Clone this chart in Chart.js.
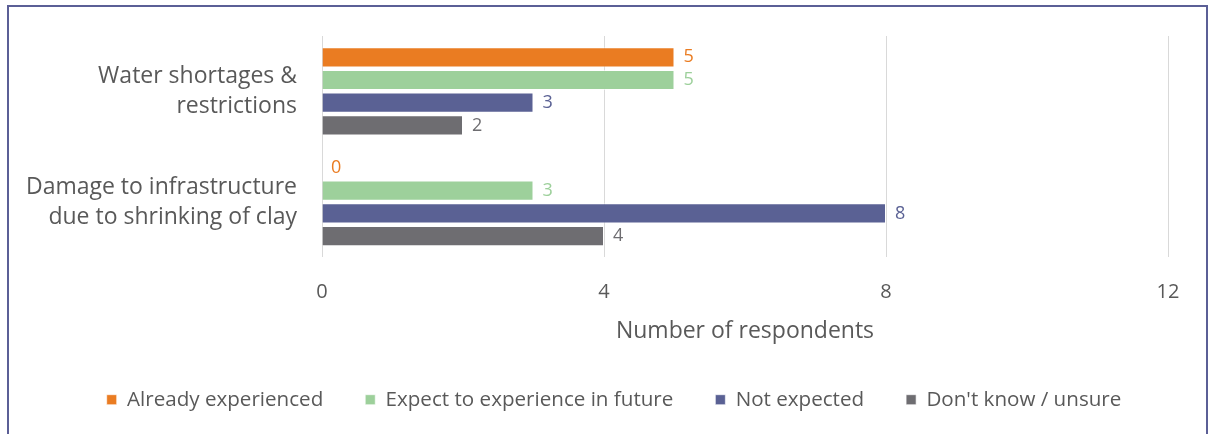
<!DOCTYPE html>
<html>
<head>
<meta charset="utf-8">
<script src="https://cdn.jsdelivr.net/npm/chart.js@4"></script>
<style>
  html, body { margin: 0; padding: 0; background: #ffffff; }
  #wrap { position: relative; width: 1210px; height: 434px; overflow: hidden; }
  #frame {
    position: absolute; left: 7px; top: 5px; width: 1201px; height: 460px;
    border: 2px solid #5b5f96; box-sizing: border-box; pointer-events: none;
  }
  canvas { position: absolute; left: 0; top: 0; }
</style>
</head>
<body>
<div id="wrap">
  <canvas id="chart" width="1210" height="434"></canvas>
  <div id="frame"></div>
</div>
<script>
// Impacts asked about in the survey
const categories = [
  ["Water shortages &", "restrictions"],
  ["Damage to infrastructure", "due to shrinking of clay"]
];

// Respondent counts per answer
const alreadyExperienced = [5, 0];
const expectInFuture = [5, 3];
const notExpected = [3, 8];
const dontKnow = [2, 4];

const seriesNames = [
  "Already experienced",
  "Expect to experience in future",
  "Not expected",
  "Don't know / unsure"
];

const xTicks = [0, 4, 8, 12];

const FONT = "'Open Sans', 'Noto Sans', sans-serif";
const TEXT = "#595959";

// Draws each bar's value just past its end, in the series colour
const valueLabels = {
  id: "valueLabels",
  afterDatasetsDraw(chart) {
    const ctx = chart.ctx;
    ctx.save();
    ctx.font = "18px " + FONT;
    ctx.textBaseline = "middle";
    ctx.textAlign = "left";
    chart.data.datasets.forEach((ds, i) => {
      const meta = chart.getDatasetMeta(i);
      meta.data.forEach((bar, j) => {
        ctx.fillStyle = ds.labelColor;
        ctx.fillText(String(ds.data[j]), bar.x + 9, bar.y);
      });
    });
    ctx.restore();
  }
};

// Centres the legend row on the whole frame instead of the area left of the right padding
const legendShift = {
  id: "legendShift",
  afterLayout(chart) {
    const lg = chart.legend;
    if (lg) { lg.left += 30; lg.right += 30; }
  }
};

const data = {
  labels: categories,
  datasets: [
    { label: seriesNames[0], data: alreadyExperienced, backgroundColor: "#ea7c22", labelColor: "#ea7c22" },
    { label: seriesNames[1], data: expectInFuture, backgroundColor: "#9dd09b", labelColor: "#9dd09b" },
    { label: seriesNames[2], data: notExpected, backgroundColor: "#5a6194", labelColor: "#5a6194" },
    { label: seriesNames[3], data: dontKnow, backgroundColor: "#6e6d71", labelColor: "#6e6d71" }
  ].map(d => Object.assign(d, {
    borderColor: "rgba(255,255,255,0.6)",
    borderWidth: 1,
    categoryPercentage: 0.82,
    barPercentage: 0.89
  }))
};

new Chart(document.getElementById("chart"), {
  type: "bar",
  data,
  plugins: [valueLabels, legendShift],
  options: {
    indexAxis: "y",
    responsive: false,
    animation: false,
    layout: { padding: { top: 36, right: 42, left: 0, bottom: 14 } },
    scales: {
      x: {
        min: 0,
        max: 12,
        afterBuildTicks(scale) { scale.ticks = xTicks.map(v => ({ value: v })); },
        grid: { color: "#d9d9d9", lineWidth: 1, drawTicks: false },
        border: { display: false },
        ticks: { color: TEXT, font: { family: FONT, size: 20 }, padding: 23 },
        title: {
          display: true,
          text: "Number of respondents",
          color: TEXT,
          font: { family: FONT, size: 23 },
          padding: { top: 0, bottom: 2 }
        },
        afterFit(scale) {
          scale.height = 90;
          scale.paddingLeft = 0;
          scale.paddingRight = 0;
        }
      },
      y: {
        grid: { display: false, drawTicks: false },
        border: { display: false },
        ticks: { color: TEXT, font: { family: FONT, size: 23, lineHeight: 1.3 }, padding: 25 },
        afterFit(scale) {
          scale.width = 322;
          scale.paddingTop = 0;
          scale.paddingBottom = 0;
        }
      }
    },
    plugins: {
      legend: {
        position: "bottom",
        labels: {
          color: TEXT,
          font: { family: FONT, size: 20.6 },
          boxWidth: 10,
          boxHeight: 10,
          padding: 42
        }
      },
      tooltip: { enabled: false }
    }
  }
});
</script>
</body>
</html>
